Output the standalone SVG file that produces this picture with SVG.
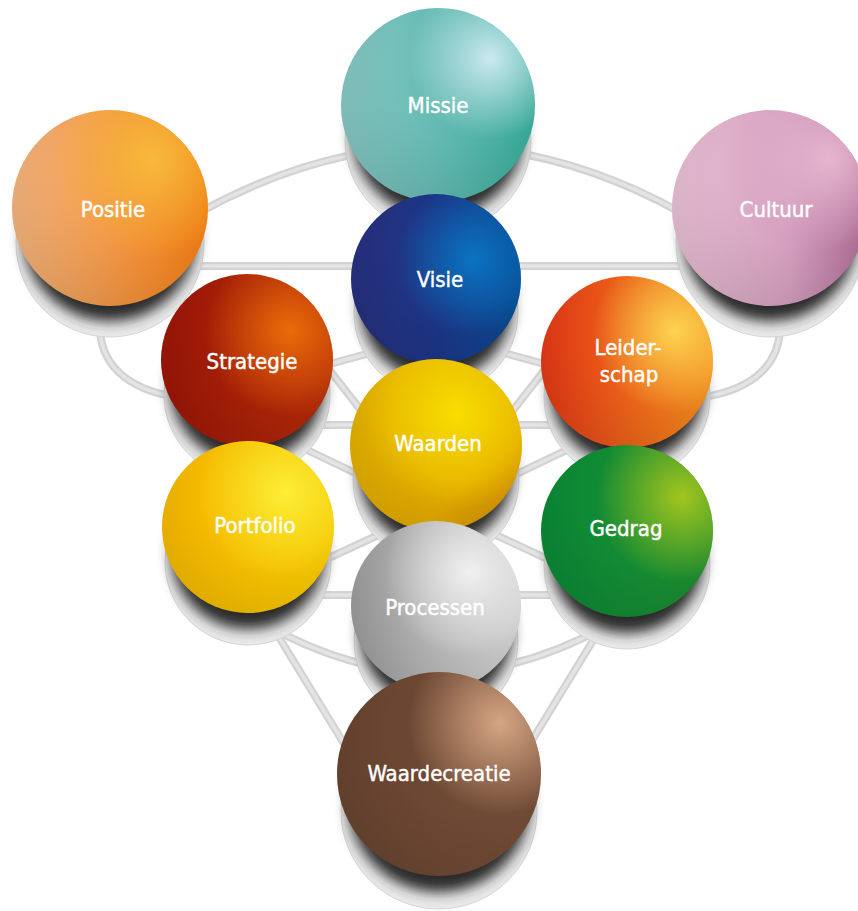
<svg xmlns="http://www.w3.org/2000/svg" xmlns:xlink="http://www.w3.org/1999/xlink" width="858" height="911" viewBox="0 0 858 911">
<style>
.ln{fill:none;stroke:#d3d3d3;stroke-width:8}
.ln2{fill:none;stroke:#e4e4e4;stroke-width:3.5}
.ped{fill:url(#ped);stroke:#d6d6d6;stroke-width:1}
.shd{fill:#2c2c2c}
.lbl{font-family:'DejaVu Sans Condensed','DejaVu Sans',sans-serif;font-size:22px;fill:#ffffff;stroke:#ffffff;stroke-width:0.45;text-anchor:middle}
</style>
<defs>
<filter id="blur" x="-20%" y="-20%" width="140%" height="140%"><feGaussianBlur stdDeviation="6.5"/></filter>
<radialGradient id="ped" cx="50%" cy="35%" r="60%"><stop offset="0" stop-color="#ffffff"/><stop offset="0.78" stop-color="#f2f2f2"/><stop offset="0.9" stop-color="#e6e6e6"/><stop offset="1" stop-color="#e9e9e9"/></radialGradient>
<radialGradient id="shade" cx="65%" cy="30%" r="80%"><stop offset="0.5" stop-color="#000" stop-opacity="0"/><stop offset="1" stop-color="#000" stop-opacity="0.1"/></radialGradient>
<linearGradient id="g-missie"><stop offset="0" stop-color="#88c8c4"/><stop offset="0.5" stop-color="#63bab2"/><stop offset="1" stop-color="#36a896"/></linearGradient>
<radialGradient id="h-missie" cx="77%" cy="26%" r="42%"><stop offset="0" stop-color="#d2ecf4" stop-opacity="0.95"/><stop offset="1" stop-color="#d2ecf4" stop-opacity="0"/></radialGradient>
<linearGradient id="g-positie"><stop offset="0" stop-color="#f5b57e"/><stop offset="1" stop-color="#ee7a10"/></linearGradient>
<radialGradient id="h-positie" cx="72%" cy="25%" r="50%"><stop offset="0" stop-color="#f8ba3a" stop-opacity="1"/><stop offset="1" stop-color="#f8ba3a" stop-opacity="0"/></radialGradient>
<linearGradient id="g-cultuur"><stop offset="0" stop-color="#e9c0d5"/><stop offset="0.6" stop-color="#d39ebd"/><stop offset="1" stop-color="#ab6a92"/></linearGradient>
<radialGradient id="h-cultuur" cx="80%" cy="25%" r="45%"><stop offset="0" stop-color="#e6b6d0" stop-opacity="1"/><stop offset="1" stop-color="#e6b6d0" stop-opacity="0"/></radialGradient>
<linearGradient id="g-visie"><stop offset="0" stop-color="#27307f"/><stop offset="0.55" stop-color="#1b3686"/><stop offset="1" stop-color="#07498f"/></linearGradient>
<radialGradient id="h-visie" cx="72%" cy="38%" r="45%"><stop offset="0" stop-color="#0a74c2" stop-opacity="1"/><stop offset="1" stop-color="#0a74c2" stop-opacity="0"/></radialGradient>
<linearGradient id="g-strategie"><stop offset="0" stop-color="#9c1606"/><stop offset="1" stop-color="#b02a08"/></linearGradient>
<radialGradient id="h-strategie" cx="75%" cy="33%" r="50%"><stop offset="0" stop-color="#ea6c0a" stop-opacity="1"/><stop offset="1" stop-color="#ea6c0a" stop-opacity="0"/></radialGradient>
<linearGradient id="g-leider"><stop offset="0" stop-color="#e43816"/><stop offset="1" stop-color="#f08a1c"/></linearGradient>
<radialGradient id="h-leider" cx="78%" cy="32%" r="48%"><stop offset="0" stop-color="#fdd450" stop-opacity="1"/><stop offset="1" stop-color="#fdd450" stop-opacity="0"/></radialGradient>
<linearGradient id="g-waarden" x2="1" y2="1"><stop offset="0" stop-color="#e6b600"/><stop offset="0.7" stop-color="#e3aa00"/><stop offset="1" stop-color="#cc8600"/></linearGradient>
<radialGradient id="h-waarden" cx="62%" cy="32%" r="55%"><stop offset="0" stop-color="#f8de00" stop-opacity="1"/><stop offset="1" stop-color="#f8de00" stop-opacity="0"/></radialGradient>
<linearGradient id="g-portfolio"><stop offset="0" stop-color="#f7b900"/><stop offset="1" stop-color="#f4c600"/></linearGradient>
<radialGradient id="h-portfolio" cx="72%" cy="30%" r="50%"><stop offset="0" stop-color="#fcee36" stop-opacity="1"/><stop offset="1" stop-color="#fcee36" stop-opacity="0"/></radialGradient>
<linearGradient id="g-gedrag"><stop offset="0" stop-color="#0a8a36"/><stop offset="1" stop-color="#1d8a30"/></linearGradient>
<radialGradient id="h-gedrag" cx="82%" cy="30%" r="50%"><stop offset="0" stop-color="#a2c61e" stop-opacity="1"/><stop offset="1" stop-color="#a2c61e" stop-opacity="0"/></radialGradient>
<linearGradient id="g-processen"><stop offset="0" stop-color="#9c9c9c"/><stop offset="1" stop-color="#cfcfcf"/></linearGradient>
<radialGradient id="h-processen" cx="70%" cy="30%" r="50%"><stop offset="0" stop-color="#f0f0f0" stop-opacity="1"/><stop offset="1" stop-color="#f0f0f0" stop-opacity="0"/></radialGradient>
<linearGradient id="g-wc"><stop offset="0" stop-color="#684430"/><stop offset="1" stop-color="#724c36"/></linearGradient>
<radialGradient id="h-wc" cx="80%" cy="25%" r="45%"><stop offset="0" stop-color="#d6a684" stop-opacity="1"/><stop offset="1" stop-color="#d6a684" stop-opacity="0"/></radialGradient>
<path id="c1" d="M200,212 Q440,80 680,212"/>
<path id="c2" d="M195,266 L685,266"/>
<path id="c3" d="M100,330 C102,370 135,393 185,398"/>
<path id="c4" d="M780,330 C778,370 745,393 695,398"/>
<path id="c5" d="M300,372 L400,345"/>
<path id="c6" d="M574,372 L474,345"/>
<path id="c7" d="M310,345 L420,486"/>
<path id="c8" d="M564,345 L454,486"/>
<path id="c9" d="M290,425 L584,425"/>
<path id="c10" d="M280,437 L420,504"/>
<path id="c11" d="M594,437 L454,504"/>
<path id="c12" d="M290,576 L430,511"/>
<path id="c13" d="M584,576 L444,511"/>
<path id="c14" d="M290,595 L584,595"/>
<path id="c15" d="M268,626 Q437,720 606,626"/>
<path id="c16" d="M255,598 L354,760"/>
<path id="c17" d="M619,598 L520,760"/>
</defs>
<rect width="858" height="911" fill="#ffffff"/>
<g id="connectors">
<g class="ln">
<use xlink:href="#c1"/><use xlink:href="#c2"/><use xlink:href="#c3"/><use xlink:href="#c4"/><use xlink:href="#c5"/><use xlink:href="#c6"/><use xlink:href="#c7"/><use xlink:href="#c8"/><use xlink:href="#c9"/><use xlink:href="#c10"/><use xlink:href="#c11"/><use xlink:href="#c12"/><use xlink:href="#c13"/><use xlink:href="#c14"/><use xlink:href="#c15"/><use xlink:href="#c16"/><use xlink:href="#c17"/>
</g>
<g class="ln2">
<use xlink:href="#c1"/><use xlink:href="#c2"/><use xlink:href="#c3"/><use xlink:href="#c4"/><use xlink:href="#c5"/><use xlink:href="#c6"/><use xlink:href="#c7"/><use xlink:href="#c8"/><use xlink:href="#c9"/><use xlink:href="#c10"/><use xlink:href="#c11"/><use xlink:href="#c12"/><use xlink:href="#c13"/><use xlink:href="#c14"/><use xlink:href="#c15"/><use xlink:href="#c16"/><use xlink:href="#c17"/>
</g>
</g>
<g id="missie">
<circle class="ped" cx="438" cy="140" r="93"/>
<circle class="shd" cx="438" cy="131" r="86" filter="url(#blur)"/>
<circle cx="438" cy="105" r="97" fill="url(#g-missie)"/>
<circle cx="438" cy="105" r="97" fill="url(#h-missie)"/>
<circle cx="438" cy="105" r="97" fill="url(#shade)"/>
<text class="lbl" x="438" y="113">Missie</text>
</g>
<g id="positie">
<circle class="ped" cx="110" cy="243" r="94"/>
<circle class="shd" cx="110" cy="234" r="87" filter="url(#blur)"/>
<circle cx="110" cy="208" r="98" fill="url(#g-positie)"/>
<circle cx="110" cy="208" r="98" fill="url(#h-positie)"/>
<circle cx="110" cy="208" r="98" fill="url(#shade)"/>
<text class="lbl" x="113" y="217">Positie</text>
</g>
<g id="cultuur">
<circle class="ped" cx="770" cy="243" r="94"/>
<circle class="shd" cx="770" cy="234" r="87" filter="url(#blur)"/>
<circle cx="770" cy="208" r="98" fill="url(#g-cultuur)"/>
<circle cx="770" cy="208" r="98" fill="url(#h-cultuur)"/>
<circle cx="770" cy="208" r="98" fill="url(#shade)"/>
<text class="lbl" x="776" y="217">Cultuur</text>
</g>
<g id="visie">
<circle class="ped" cx="436" cy="313" r="82"/>
<circle class="shd" cx="436" cy="304" r="76" filter="url(#blur)"/>
<circle cx="436" cy="279" r="85" fill="url(#g-visie)"/>
<circle cx="436" cy="279" r="85" fill="url(#h-visie)"/>
<circle cx="436" cy="279" r="85" fill="url(#shade)"/>
<text class="lbl" x="440" y="287">Visie</text>
</g>
<g id="strategie">
<circle class="ped" cx="247" cy="395" r="83"/>
<circle class="shd" cx="247" cy="385" r="77" filter="url(#blur)"/>
<circle cx="247" cy="360" r="86" fill="url(#g-strategie)"/>
<circle cx="247" cy="360" r="86" fill="url(#h-strategie)"/>
<circle cx="247" cy="360" r="86" fill="url(#shade)"/>
<text class="lbl" x="252" y="369">Strategie</text>
</g>
<g id="leiderschap">
<circle class="ped" cx="627" cy="397" r="83"/>
<circle class="shd" cx="627" cy="387" r="77" filter="url(#blur)"/>
<circle cx="627" cy="362" r="86" fill="url(#g-leider)"/>
<circle cx="627" cy="362" r="86" fill="url(#h-leider)"/>
<circle cx="627" cy="362" r="86" fill="url(#shade)"/>
<text class="lbl" x="628" y="355">Leider-</text>
<text class="lbl" x="629" y="382">schap</text>
</g>
<g id="waarden">
<circle class="ped" cx="436" cy="480" r="83"/>
<circle class="shd" cx="436" cy="470" r="77" filter="url(#blur)"/>
<circle cx="436" cy="445" r="86" fill="url(#g-waarden)"/>
<circle cx="436" cy="445" r="86" fill="url(#h-waarden)"/>
<circle cx="436" cy="445" r="86" fill="url(#shade)"/>
<text class="lbl" x="438" y="451">Waarden</text>
</g>
<g id="portfolio">
<circle class="ped" cx="248" cy="562" r="83"/>
<circle class="shd" cx="248" cy="552" r="77" filter="url(#blur)"/>
<circle cx="248" cy="527" r="86" fill="url(#g-portfolio)"/>
<circle cx="248" cy="527" r="86" fill="url(#h-portfolio)"/>
<circle cx="248" cy="527" r="86" fill="url(#shade)"/>
<text class="lbl" x="255" y="533">Portfolio</text>
</g>
<g id="gedrag">
<circle class="ped" cx="627" cy="566" r="83"/>
<circle class="shd" cx="627" cy="556" r="77" filter="url(#blur)"/>
<circle cx="627" cy="531" r="86" fill="url(#g-gedrag)"/>
<circle cx="627" cy="531" r="86" fill="url(#h-gedrag)"/>
<circle cx="627" cy="531" r="86" fill="url(#shade)"/>
<text class="lbl" x="626" y="536">Gedrag</text>
</g>
<g id="processen">
<circle class="ped" cx="436" cy="641" r="82"/>
<circle class="shd" cx="436" cy="631" r="76" filter="url(#blur)"/>
<circle cx="436" cy="606" r="85" fill="url(#g-processen)"/>
<circle cx="436" cy="606" r="85" fill="url(#h-processen)"/>
<circle cx="436" cy="606" r="85" fill="url(#shade)"/>
<text class="lbl" x="435" y="615">Processen</text>
</g>
<g id="waardecreatie">
<circle class="ped" cx="439" cy="811" r="98"/>
<circle class="shd" cx="439" cy="801" r="91" filter="url(#blur)"/>
<circle cx="439" cy="774" r="102" fill="url(#g-wc)"/>
<circle cx="439" cy="774" r="102" fill="url(#h-wc)"/>
<circle cx="439" cy="774" r="102" fill="url(#shade)"/>
<text class="lbl" x="439" y="781">Waardecreatie</text>
</g>
</svg>
